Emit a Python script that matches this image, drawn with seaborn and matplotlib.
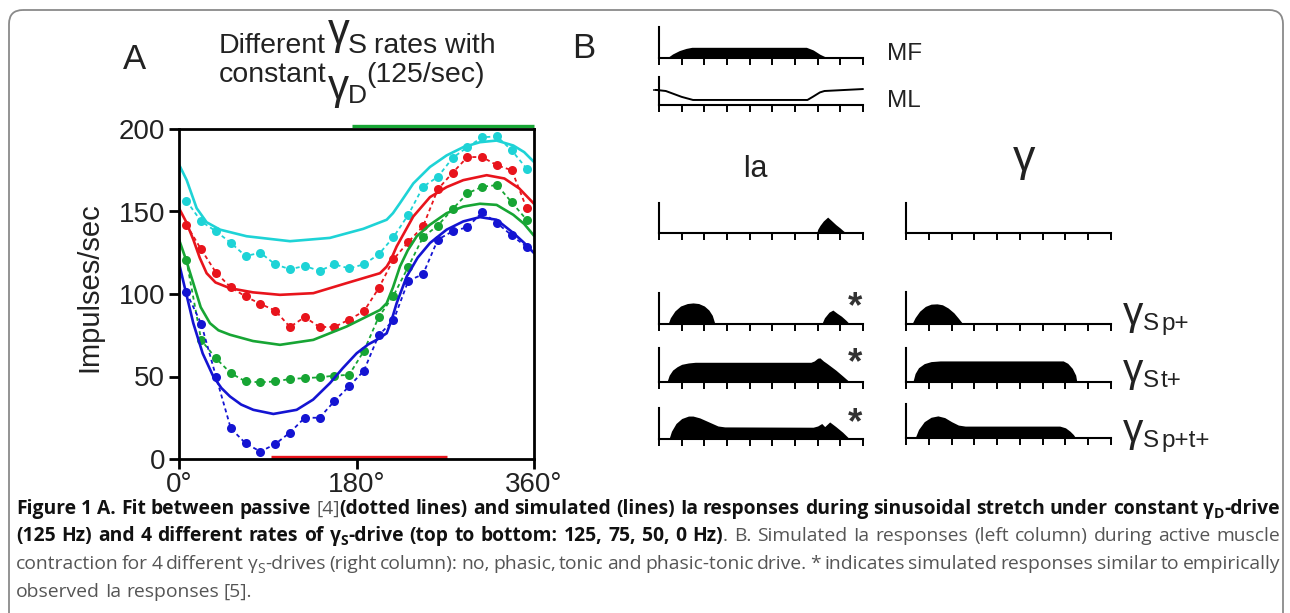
import numpy as np
import pandas as pd
import matplotlib
matplotlib.use("Agg")
import matplotlib.pyplot as plt
import seaborn as sns
from matplotlib.patches import FancyBboxPatch
from matplotlib.transforms import Affine2D
from matplotlib.textpath import TextPath
from matplotlib.font_manager import FontProperties

W, H = 1290, 613

# ---------------- panel A data ----------------
dot_deg = [7.5, 22.5, 37.5, 52.5, 67.5, 82.5, 97.5, 112.5, 127.5, 142.5, 157.5, 172.5,
           187.5, 202.5, 217.5, 232.5, 247.5, 262.5, 277.5, 292.5, 307.5, 322.5, 337.5, 352.5]
dots_cyan = [156.5, 144, 138, 131, 123, 125, 118, 115, 117, 114, 118, 115.5,
             118, 124, 134.5, 148, 165, 171, 182.5, 189, 195, 195.5, 187, 176]
dots_red = [142, 127, 113, 104, 98.5, 94, 90, 80, 86, 80, 80, 84.5,
            89.5, 103.5, 121, 131.5, 141, 163.5, 173.5, 183, 183, 178, 175, 152]
dots_green = [120.5, 72, 61, 52, 47, 46.5, 47, 48.5, 49, 49.5, 50.5, 51,
              65.5, 86, 99, 116.5, 134.5, 141.5, 151.5, 161, 165, 166, 155.5, 145]
dots_blue = [101, 82, 50, 18.6, 9.5, 4.5, 9, 16, 25, 25, 35, 44,
             53.5, 75, 84, 108, 112, 133, 138, 140.5, 149.5, 143, 135.5, 128.5]

sim_cyan_deg = [0, 7.8, 17.9, 28, 41.6, 68.6, 112.6, 153, 186.9, 210.6, 217, 224,
                237.6, 254.5, 271.4, 288.3, 305.2, 322.1, 339, 350, 360]
sim_cyan = [178.5, 169, 152, 143.5, 139, 135, 132, 134, 139.5, 145, 149, 155,
            167, 177, 184, 189, 192, 193, 190, 186, 180]
sim_red_deg = [0, 7, 14.5, 21, 28, 37, 51.7, 75, 102.4, 136.2, 170, 203.8, 210.6,
               215, 220.7, 237.6, 254.5, 271.4, 288.3, 312, 330, 345, 360]
sim_red = [152, 144, 133, 122, 112.6, 107, 103.5, 101, 99.5, 100.5, 106.6, 112.6, 116.6,
           121, 128.8, 147, 158.7, 164.8, 169, 172, 170, 164, 154.7]
sim_green_deg = [0, 7, 14.5, 22, 31.4, 40, 51.7, 75, 102.4, 136.2, 170, 203.8, 210.6,
                 217, 224.1, 232, 241, 254.5, 271.4, 288.3, 305.2, 322.1, 339, 350, 360]
sim_green = [133, 121, 106.6, 92, 82.3, 78, 75.3, 71.5, 69.2, 72.2, 80.3, 90.3, 94.4,
             104, 116.7, 126.5, 134.9, 142, 149, 153, 154.7, 154, 148, 142.5, 135.3]
sim_blue_deg = [0, 7, 14.5, 24, 34.8, 43, 51.7, 63, 75.4, 95.7, 119.3, 136, 153.1,
                166, 180.2, 192, 200.4, 210.6, 216, 220.7, 230.9, 242, 254.5, 271.4,
                288.3, 305.2, 322.1, 339, 350, 360]
sim_blue = [118.7, 101, 82.3, 64, 50, 43, 37.9, 33, 29.8, 27.3, 29.8, 36, 46,
            55, 64.1, 69.5, 72.2, 76.2, 85, 94.4, 110.6, 122, 130.9, 139,
            144, 146.6, 145, 137, 131, 124.8]

colors = {"cyan": "#1ed3d6", "red": "#e8141c", "green": "#17a534", "blue": "#1414d2"}

green_bar = [175, 360]   # deg span of the marker bar above the plot
red_bar = [93, 271.5]    # deg span of the marker bar on the x axis

# ---------------- panel B data (x in tick units 0..9, y as fraction of axis height) ----
mf_x = [0.35, 0.6, 0.9, 1.2, 1.45, 6.5, 6.8, 7.1, 7.45]
mf_y = [0, 0.13, 0.24, 0.31, 0.345, 0.345, 0.26, 0.12, 0]
ml_x = [-0.15, 0.3, 1.0, 1.5, 6.55, 6.8, 7.1, 7.3, 9.0]
ml_y = [0.54, 0.5, 0.29, 0.18, 0.18, 0.3, 0.45, 0.5, 0.57]

ia_none_x = [6.96, 7.0, 7.1, 7.25, 7.44, 7.6, 7.8, 8.0, 8.15, 8.28]
ia_none_y = [0, 0.12, 0.25, 0.4, 0.53, 0.42, 0.28, 0.16, 0.06, 0]
ia_p_x = [0.4, 0.5, 0.7, 0.95, 1.25, 1.5, 1.75, 2.0, 2.2, 2.35, 2.47, 2.5,
          7.15, 7.18, 7.3, 7.5, 7.67, 7.85, 8.05, 8.25, 8.41]
ia_p_y = [0, 0.2, 0.42, 0.58, 0.66, 0.68, 0.66, 0.58, 0.45, 0.28, 0, 0,
          0, 0, 0.2, 0.38, 0.45, 0.35, 0.25, 0.12, 0]
ia_t_x = [0.35, 0.45, 0.6, 0.8, 1.0, 1.3, 1.6, 6.7, 6.85, 7.0, 7.1, 7.25, 7.4,
          7.8, 8.1, 8.41]
ia_t_y = [0, 0.2, 0.35, 0.45, 0.52, 0.56, 0.58, 0.58, 0.62, 0.7, 0.71, 0.62, 0.55,
          0.35, 0.18, 0]
ia_pt_x = [0.44, 0.55, 0.75, 1.0, 1.3, 1.5, 1.8, 2.2, 2.6, 2.9, 6.8, 7.0, 7.18,
           7.31, 7.53, 7.8, 8.1, 8.41]
ia_pt_y = [0, 0.25, 0.5, 0.66, 0.74, 0.74, 0.68, 0.55, 0.42, 0.39, 0.38, 0.42, 0.5,
           0.4, 0.55, 0.4, 0.22, 0]

g_p_x = [0.26, 0.4, 0.6, 0.85, 1.1, 1.36, 1.6, 1.85, 2.1, 2.3, 2.5]
g_p_y = [0, 0.2, 0.4, 0.55, 0.62, 0.63, 0.6, 0.5, 0.35, 0.18, 0]
g_t_x = [0.3, 0.4, 0.55, 0.8, 1.1, 1.5, 6.9, 7.1, 7.3, 7.45, 7.5]
g_t_y = [0, 0.25, 0.42, 0.54, 0.6, 0.62, 0.62, 0.55, 0.4, 0.2, 0]
g_pt_x = [0.4, 0.55, 0.8, 1.1, 1.4, 1.7, 2.0, 2.3, 2.6, 6.75, 7.0, 7.2, 7.35, 7.45]
g_pt_y = [0, 0.25, 0.48, 0.61, 0.65, 0.6, 0.48, 0.38, 0.35, 0.35, 0.3, 0.2, 0.1, 0]

row_labels = ["p+", "t+", "p+t+"]

caption_lines = [
    [("Figure 1 A. Fit between passive ", "b"), ("[4]", "r"),
     ("(dotted lines) and simulated (lines) Ia responses during sinusoidal stretch under constant \u03b3", "b"),
     ("D", "bs"), ("-drive", "b")],
    [("(125 Hz) and 4 different rates of \u03b3", "b"), ("S", "bs"),
     ("-drive (top to bottom: 125, 75, 50, 0 Hz)", "b"),
     (". B. Simulated Ia responses (left column) during active muscle", "r")],
    [("contraction for 4 different \u03b3", "r"), ("S", "rs"),
     ("-drives (right column): no, phasic, tonic and phasic-tonic drive. * indicates simulated responses similar to empirically", "r")],
    [("observed Ia responses [5].", "r")],
]

# ---------------- figure ----------------
sns.set_style("ticks")
plt.rcParams["font.family"] = ["Liberation Sans", "DejaVu Sans"]

fig = plt.figure(figsize=(W / 100, H / 100), dpi=100)
PX = Affine2D().scale(1 / W, -1 / H).translate(0, 1) + fig.transFigure
TXT = "#222222"


def rect(l, t, r, b):
    return [l / W, 1 - b / H, (r - l) / W, (b - t) / H]


def label(x, y, s, size, **kw):
    kw.setdefault("color", TXT)
    return fig.text(x, y, s, transform=PX, fontsize=size, va="baseline", ha="left", **kw)


def glyph(s, left, top, bottom, **kw):
    """place a glyph so its ink spans left/top..bottom (pixels from top-left)"""
    fp = FontProperties(family=["Liberation Sans", "DejaVu Sans"])
    ext = TextPath((0, 0), s, size=100, prop=fp).get_extents()
    em = (bottom - top) / (ext.height / 100)
    base = bottom + ext.y0 / 100 * em
    x = left - ext.x0 / 100 * em
    return label(x, base, s, em * 72 / 100, **kw)


# border
fig.add_artist(FancyBboxPatch((9, 10), 1274, 650, boxstyle="round,pad=0,rounding_size=14",
                              transform=PX, fc="none", ec="#8a8a8a", lw=1.3))

# ---- panel A ----
ax = fig.add_axes(rect(179, 129, 534, 459))
for name, sx, sy, dy in [("cyan", sim_cyan_deg, sim_cyan, dots_cyan),
                         ("red", sim_red_deg, sim_red, dots_red),
                         ("green", sim_green_deg, sim_green, dots_green),
                         ("blue", sim_blue_deg, sim_blue, dots_blue)]:
    c = colors[name]
    sim = pd.DataFrame({"deg": sx, "rate": sy})
    obs = pd.DataFrame({"deg": dot_deg, "rate": dy})
    sns.lineplot(data=sim, x="deg", y="rate", ax=ax, color=c, lw=1.9,
                 estimator=None, sort=False)
    sns.lineplot(data=obs, x="deg", y="rate", ax=ax, color=c, lw=1.3,
                 linestyle=(0, (2.2, 1.8)), marker="o", markersize=6.5,
                 markeredgewidth=0, estimator=None, sort=False)

ax.hlines(201.6, green_bar[0], green_bar[1], color=colors["green"], lw=2.4, clip_on=False)
ax.hlines(1.4, red_bar[0], red_bar[1], color=colors["red"], lw=2.4, clip_on=False)

ax.set_xlim(0, 360)
ax.set_ylim(0, 200)
ax.set_xticks([0, 180, 360])
ax.set_xticklabels(["0\u00b0", "180\u00b0", "360\u00b0"])
ax.set_yticks([0, 50, 100, 150, 200])
ax.tick_params(direction="out", length=7, width=2, labelsize=20, pad=3, colors="black",
               labelcolor=TXT)
ax.tick_params(axis="x", pad=2)
for s in ax.spines.values():
    s.set_linewidth(2)
    s.set_color("black")
ax.set_xlabel("")
ax.set_ylabel("Impulses/sec", fontsize=21, color=TXT)
ax.yaxis.set_label_coords(-0.214, 0.52)

label(123, 69, "A", 25)
label(219, 53, "Different", 20.5)
glyph("\u03b3", 328, 21, 53)
label(348, 53, "S", 20.5)
label(374, 53, "rates with", 20.5)
label(219, 82, "constant", 20.5)
glyph("\u03b3", 328, 77, 108)
label(348, 103, "D", 19)
label(366, 82, "(125/sec)", 20.5)

# ---- panel B ----
label(572, 58, "B", 25)


def trace_axes(l, t, r, b, xs=None, ys=None, line=False):
    a = fig.add_axes(rect(l, t, r, b))
    a.patch.set_visible(False)
    a.set_xlim(0, 9)
    a.set_ylim(0, 1)
    a.spines["top"].set_visible(False)
    a.spines["right"].set_visible(False)
    for s in ("left", "bottom"):
        a.spines[s].set_linewidth(1.5)
        a.spines[s].set_color("black")
    a.set_xticks(range(10))
    a.set_xticklabels([])
    a.set_yticks([])
    a.tick_params(axis="x", direction="out", length=5, width=1.4, colors="black")
    if xs is not None:
        if line:
            sns.lineplot(x=xs, y=ys, ax=a, color="black", lw=1.4, estimator=None,
                         sort=False, clip_on=False)
        else:
            a.fill_between(xs, ys, 0, color="black", lw=0)
    a.set_xlabel("")
    a.set_ylabel("")
    return a


trace_axes(659, 27, 863, 58, mf_x, mf_y)
ml_ax = trace_axes(659, 77, 863, 105, ml_x, ml_y, line=True)
ml_ax.set_yticks([ml_y[0]])
ml_ax.set_yticklabels([])
ml_ax.tick_params(axis="y", direction="out", length=4, width=1.2)
label(887, 60, "MF", 17.5)
label(887, 107, "ML", 17.5)

label(742, 177, "Ia", 22)
glyph("\u03b3", 1013, 147, 180)

ia_rows = [((203, 233), ia_none_x, ia_none_y), ((293, 324), ia_p_x, ia_p_y),
           ((348, 382), ia_t_x, ia_t_y), ((408, 439), ia_pt_x, ia_pt_y)]
g_rows = [((203, 233), None, None), ((292, 324), g_p_x, g_p_y),
          ((348, 382), g_t_x, g_t_y), ((404, 438), g_pt_x, g_pt_y)]
for (t, b), xs, ys in ia_rows:
    trace_axes(659, t, 863, b, xs, ys)
for (t, b), xs, ys in g_rows:
    trace_axes(906, t, 1111, b, xs, ys)

for top in (292, 348, 408):
    glyph("*", 848, top, top + 13, weight="bold", color="#333333")

for txt, top in zip(row_labels, (303, 360, 420)):
    glyph("\u03b3", 1123, top, top + 30)
    label(1143, top + 27, "S", 17.5)
    label(1161, top + 27, txt, 17.5)


# ---- caption ----
def split_words(runs):
    words = [[]]
    for text, st in runs:
        for i, part in enumerate(text.split(" ")):
            if i > 0:
                words.append([])
            if part:
                words[-1].append((part, st))
    return [w for w in words if w]


def draw_caption(size, x0=16, x1=1280, baselines=(514, 541, 569, 597)):
    rend = fig.canvas.get_renderer()
    made, natural = [], []
    space = size * 100 / 72 * 0.26
    for k, (runs, yb) in enumerate(zip(caption_lines, baselines)):
        placed = []
        for w in split_words(runs):
            segs, wx = [], 0.0
            for s, st in w:
                sub = st.endswith("s")
                t = fig.text(0, yb + (4 if sub else 0), s, transform=PX,
                             fontsize=size * (0.72 if sub else 1.0), family="Open Sans",
                             weight="bold" if st[0] == "b" else "normal",
                             color="#111111" if st[0] == "b" else "#555555",
                             va="baseline", ha="left")
                segs.append((t, wx))
                wx += t.get_window_extent(rend).width
                made.append(t)
            placed.append((segs, wx))
        total = sum(p[1] for p in placed)
        natural.append(total + space * (len(placed) - 1))
        last = k == len(caption_lines) - 1
        gap = space if last else (x1 - x0 - total) / (len(placed) - 1)
        x = x0
        for segs, wx in placed:
            for t, off in segs:
                t.set_x(x + off)
            x += wx + gap
    return made, natural


made, natural = draw_caption(12)
for t in made:
    t.remove()
fit = 12 * (1280 - 16) / natural[0] * 0.995
draw_caption(fit)

fig.savefig("out.png", dpi=100)
